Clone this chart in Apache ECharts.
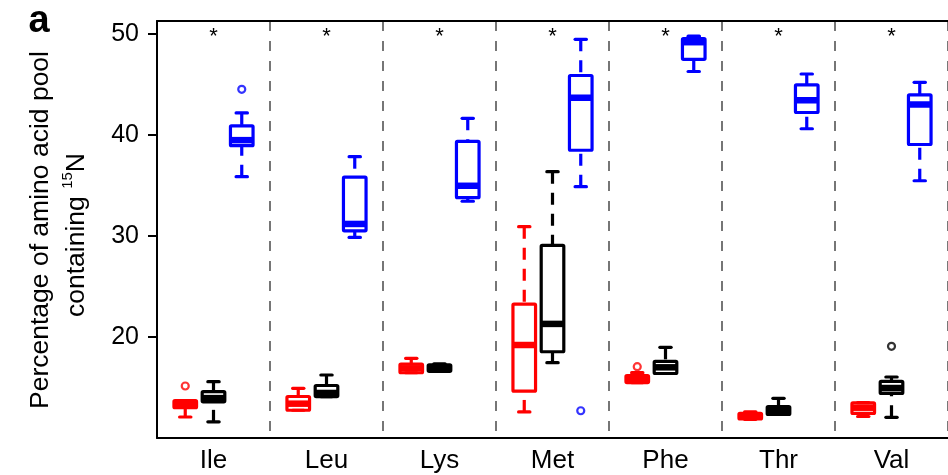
<!DOCTYPE html>
<html><head><meta charset="utf-8">
<script src="https://cdn.jsdelivr.net/npm/echarts@6/dist/echarts.min.js"></script>
<style>html,body{margin:0;padding:0;background:#fff}#c{width:948px;height:475px}</style>
</head><body><div id="c"></div>
<script>
// ---- data ----
const categories = ['Ile', 'Leu', 'Lys', 'Met', 'Phe', 'Thr', 'Val'];
// each row: [min, Q1, median, Q3, max]
const redStats = [
  [12.08, 13.0, 13.35, 13.7, 13.7],
  [12.75, 12.75, 13.4, 14.11, 14.92],
  [16.46, 16.46, 16.9, 17.31, 17.89],
  [12.58, 14.64, 19.21, 23.25, 30.93],
  [15.49, 15.49, 15.84, 16.19, 16.47],
  [11.85, 11.88, 12.18, 12.44, 12.6],
  [12.13, 12.43, 13.0, 13.47, 13.5]
];
const blackStats = [
  [11.6, 13.58, 13.95, 14.6, 15.58],
  [14.1, 14.1, 14.46, 15.2, 16.24],
  [16.6, 16.6, 16.95, 17.25, 17.35],
  [17.46, 18.54, 21.3, 29.07, 36.38],
  [16.39, 16.39, 17.0, 17.58, 18.98],
  [12.33, 12.33, 12.72, 13.12, 13.93],
  [12.05, 14.41, 14.95, 15.6, 16.04]
];
const blueStats = [
  [35.88, 38.95, 39.5, 40.92, 42.2],
  [29.87, 30.52, 31.2, 35.83, 37.86],
  [33.45, 33.8, 34.98, 39.37, 41.66],
  [34.89, 38.5, 43.7, 45.9, 49.49],
  [46.3, 47.5, 49.2, 49.55, 49.8],
  [40.63, 42.24, 43.45, 44.98, 46.05],
  [35.48, 39.07, 43.03, 43.99, 45.23]
];
// [group index, value]
const redOutliers = [[0, 15.15], [4, 17.06]];
const blackOutliers = [[6, 19.08]];
const blueOutliers = [[0, 44.53], [3, 12.7]];
const starGroups = [0, 1, 2, 3, 4, 5, 6];
const starValue = 50;
const yTickValues = [20, 30, 40, 50];

// ---- chart ----
const colors = ['#ff0000', '#000000', '#0000ff'];
const allStats = [redStats, blackStats, blueStats];
const allOutliers = [redOutliers, blackOutliers, blueOutliers];
const pos = (g, t) => 4 * g + 1 + t;

const boxData = [];
allStats.forEach((stats, t) => {
  stats.forEach((s, g) => boxData.push([pos(g, t)].concat(s).concat([t])));
});

function renderBox(params, api) {
  const x = api.value(0);
  const vMin = api.value(1), q1 = api.value(2), med = api.value(3), q3 = api.value(4), vMax = api.value(5);
  const color = colors[api.value(6)];
  const pMin = api.coord([x, vMin]), pQ1 = api.coord([x, q1]), pMed = api.coord([x, med]);
  const pQ3 = api.coord([x, q3]), pMax = api.coord([x, vMax]);
  const half = api.size([0.8, 0])[0] / 2;
  const capHalf = half / 2;
  const cx = pMed[0];
  const lw = 3.2;
  const ch = [];
  const dashStyle = { stroke: color, lineWidth: lw, lineDash: [12, 9], fill: 'none' };
  if (vMax > q3) ch.push({ type: 'line', shape: { x1: cx, y1: pMax[1], x2: cx, y2: pQ3[1] }, style: dashStyle });
  if (vMin < q1) ch.push({ type: 'line', shape: { x1: cx, y1: pMin[1], x2: cx, y2: pQ1[1] }, style: dashStyle });
  ch.push({ type: 'line', shape: { x1: cx - capHalf, y1: pMax[1], x2: cx + capHalf, y2: pMax[1] }, style: { stroke: color, lineWidth: lw, lineCap: 'round' } });
  ch.push({ type: 'line', shape: { x1: cx - capHalf, y1: pMin[1], x2: cx + capHalf, y2: pMin[1] }, style: { stroke: color, lineWidth: lw, lineCap: 'round' } });
  ch.push({ type: 'rect', shape: { x: cx - half, y: pQ3[1], width: 2 * half, height: pQ1[1] - pQ3[1], r: 1 }, style: { stroke: color, lineWidth: lw, fill: 'none', lineJoin: 'round' } });
  ch.push({ type: 'line', shape: { x1: cx - half, y1: pMed[1], x2: cx + half, y2: pMed[1] }, style: { stroke: color, lineWidth: 6.5 } });
  return { type: 'group', children: ch };
}

const starData = starGroups.map(g => [pos(g, 1), starValue]);
function renderStar(params, api) {
  const p = api.coord([api.value(0), api.value(1)]);
  return { type: 'text', x: p[0], y: p[1] + 3, style: { text: '*', fill: '#000', font: '22px "Liberation Sans", Arial, sans-serif', align: 'center', verticalAlign: 'middle' } };
}

const scatterSeries = allOutliers.map((outs, t) => ({
  type: 'scatter', xAxisIndex: 1, yAxisIndex: 0, z: 5,
  symbol: 'circle', symbolSize: 7,
  itemStyle: { color: '#ffffff', borderColor: colors[t], borderWidth: 2.2 },
  data: outs.map(o => [pos(o[0], t), o[1]])
}));

const FONT = '"Liberation Sans", Arial, Helvetica, sans-serif';
const chart = echarts.init(document.getElementById('c'), null, { renderer: 'canvas' });
chart.setOption({
  animation: false,
  backgroundColor: '#ffffff',
  grid: { left: 157, top: 21, width: 803, height: 417, containLabel: false },
  xAxis: [
    {
      type: 'category', data: categories, boundaryGap: true, position: 'bottom',
      axisLine: { show: true, onZero: false, lineStyle: { color: '#000', width: 2 } },
      axisTick: { show: false },
      axisLabel: { color: '#000', fontSize: 26, fontFamily: FONT, margin: 10, interval: 0 },
      splitLine: { show: true, interval: 0, lineStyle: { color: '#555', width: 1.6, type: [10, 10] } }
    },
    {
      type: 'value', min: 0, max: 28, position: 'top',
      axisLine: { show: true, onZero: false, lineStyle: { color: '#000', width: 2 } },
      axisTick: { show: false }, axisLabel: { show: false }, splitLine: { show: false }
    }
  ],
  yAxis: {
    type: 'value', min: 10, max: 51.3, interval: 10,
    axisLine: { show: true, onZero: false, lineStyle: { color: '#000', width: 2 } },
    axisTick: { show: true, length: 9, customValues: yTickValues, lineStyle: { color: '#000', width: 2 } },
    axisLabel: { color: '#000', fontSize: 25, fontFamily: FONT, margin: 18, customValues: yTickValues },
    splitLine: { show: false }
  },
  graphic: [
    { type: 'text', x: 39, y: 22, style: { text: 'a', fill: '#000', font: 'bold 38px ' + FONT, align: 'center', verticalAlign: 'middle' } },
    { type: 'text', x: 41, y: 230, rotation: Math.PI / 2, style: { text: 'Percentage of amino acid pool', fill: '#000', font: '26.5px ' + FONT, align: 'center', verticalAlign: 'middle' } },
    { type: 'text', x: 75, y: 235, rotation: Math.PI / 2, style: {
        text: '{n|containing }{s|15}{n|N}', align: 'center', verticalAlign: 'middle',
        rich: {
          n: { fontSize: 26.5, fontFamily: FONT, color: '#000', lineHeight: 30, verticalAlign: 'bottom' },
          s: { fontSize: 15, fontFamily: FONT, color: '#000', lineHeight: 15, verticalAlign: 'top' }
        }
    } }
  ],
  series: [
    { type: 'custom', xAxisIndex: 1, yAxisIndex: 0, renderItem: renderBox, data: boxData, z: 3 },
    { type: 'custom', xAxisIndex: 1, yAxisIndex: 0, renderItem: renderStar, data: starData, z: 4 }
  ].concat(scatterSeries)
});
</script></body></html>
